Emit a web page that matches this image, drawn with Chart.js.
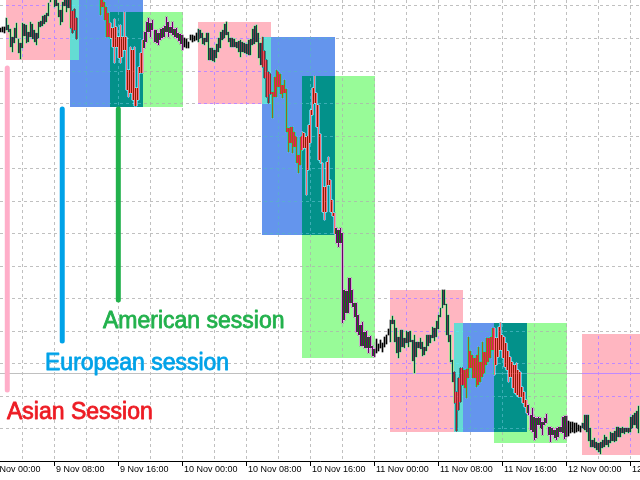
<!DOCTYPE html>
<html>
<head>
<meta charset="utf-8">
<script src="https://cdn.jsdelivr.net/npm/chart.js@4/dist/chart.umd.min.js"></script>
<style>
  html, body { margin: 0; padding: 0; background: #fff; }
  canvas { display: block; }
</style>
</head>
<body>
<canvas id="chart" width="640" height="480"></canvas>
<script>
// 15 minute bars, first one at 9 Nov 01:15 (hours counted from 9 Nov 00:00)
const firstBarHour = 1.25;
const barHours = 0.25;

const highs = [
  433, 434, 434, 443, 436, 432, 424, 433, 438, 422, 418, 438, 437, 436, 429, 439, 437, 431, 428, 439,
  440, 445, 446, 448, 458, 466, 469, 464, 463, 458, 451, 459, 465, 464, 467, 465, 450, 452, 443, 479,
  487, 491, 496, 493, 489, 495, 491, 487, 483, 477, 466, 463, 459, 454, 448, 438, 433, 442, 434, 424,
  436, 424, 449, 424, 391, 414, 411, 414, 373, 394, 408, 421, 429, 439, 443, 438, 441, 431, 431, 428,
  432, 433, 435, 444, 439, 434, 439, 432, 433, 428, 427, 426, 423, 422, 419, 426, 426, 425, 428, 432,
  431, 428, 423, 428, 428, 413, 413, 411, 417, 423, 429, 431, 437, 439, 429, 423, 423, 422, 419, 420,
  421, 419, 418, 417, 421, 422, 432, 435, 436, 428, 418, 424, 410, 401, 389, 387, 369, 384, 391, 389,
  387, 376, 381, 372, 333, 334, 334, 329, 324, 306, 324, 329, 328, 324, 336, 351, 373, 385, 368, 356,
  327, 298, 274, 299, 304, 281, 261, 248, 233, 231, 233, 228, 171, 170, 183, 183, 171, 158, 158, 146,
  136, 139, 129, 130, 124, 125, 115, 112, 122, 117, 121, 118, 124, 126, 132, 141, 145, 141, 133, 124,
  131, 131, 123, 130, 129, 130, 121, 126, 119, 119, 123, 119, 114, 126, 126, 126, 134, 133, 140, 146,
  153, 171, 171, 157, 146, 126, 101, 89, 69, 83, 93, 93, 91, 92, 124, 110, 106, 103, 106, 114,
  99, 119, 109, 123, 123, 124, 133, 133, 123, 134, 138, 126, 124, 118, 110, 104, 99, 96, 98, 91,
  89, 74, 69, 61, 56, 46, 53, 44, 43, 44, 43, 39, 43, 47, 34, 34, 33, 31, 33, 34,
  34, 44, 45, 45, 40, 39, 39, 38, 38, 36, 35, 38, 46, 46, 46, 33, 21, 23, 19, 18,
  19, 21, 26, 24, 21, 29, 28, 30, 34, 34, 33, 34, 33, 33, 33, 44, 46, 48, 50, 55
];

const lows = [
  429, 429, 428, 431, 429, 414, 409, 418, 423, 408, 402, 413, 425, 418, 419, 424, 422, 419, 416, 423,
  434, 435, 437, 439, 445, 459, 462, 454, 455, 444, 436, 439, 455, 449, 453, 433, 428, 431, 422, 463,
  469, 473, 476, 475, 471, 477, 473, 467, 465, 463, 446, 454, 441, 424, 424, 423, 414, 398, 414, 403,
  398, 404, 411, 371, 364, 368, 361, 355, 355, 361, 388, 388, 413, 419, 429, 424, 431, 419, 418, 416,
  421, 423, 424, 429, 424, 428, 426, 424, 423, 420, 417, 411, 414, 413, 413, 421, 419, 420, 421, 419,
  423, 417, 416, 419, 401, 401, 400, 399, 403, 409, 413, 421, 423, 426, 419, 414, 414, 414, 413, 409,
  404, 409, 408, 407, 406, 406, 416, 417, 419, 403, 396, 394, 383, 364, 358, 367, 343, 364, 364, 374,
  367, 363, 368, 329, 309, 318, 308, 314, 298, 288, 296, 311, 313, 266, 291, 318, 346, 358, 334, 301,
  298, 249, 241, 249, 276, 249, 245, 227, 218, 214, 218, 138, 141, 148, 148, 158, 154, 144, 129, 126,
  115, 115, 113, 113, 108, 113, 105, 104, 108, 110, 113, 109, 114, 117, 126, 119, 137, 119, 108, 103,
  109, 114, 113, 118, 114, 119, 100, 88, 104, 113, 112, 105, 106, 110, 115, 118, 123, 120, 124, 132,
  144, 153, 156, 126, 119, 99, 79, 58, 30, 51, 59, 76, 73, 63, 83, 93, 83, 83, 74, 76,
  79, 84, 88, 96, 99, 103, 111, 86, 96, 104, 111, 103, 94, 91, 79, 84, 73, 68, 66, 64,
  64, 58, 54, 48, 46, 31, 29, 21, 23, 36, 33, 26, 36, 38, 26, 19, 26, 23, 21, 24,
  29, 28, 22, 24, 25, 28, 29, 28, 29, 30, 29, 33, 31, 29, 20, 14, 14, 13, 11, 9,
  7, 13, 14, 16, 14, 18, 20, 19, 20, 24, 24, 28, 27, 29, 28, 29, 33, 36, 33, 28
];

const currentPrice = 88;

// session boxes, one entry per day
const asianHigh = [470, 439, 171, 127];
const asianLow = [402, 358, 30, 7];
const europeHigh = [499, 424, 138];
const europeLow = [355, 227, 30];
const americaHigh = [449, 385, 138];
const americaLow = [355, 104, 19];
const sessionStart = [2, 10, 15];
const sessionLength = 9;

const gridHours = [4, 8, 12, 16, 20, 24, 28, 32, 36, 40, 44, 48, 52, 56, 60, 64, 68, 72, 76, 80];
const tickHours = [0, 8, 16, 24, 32, 40, 48, 56, 64, 72, 80];
const tickLabels = [
  '9 Nov 00:00', '9 Nov 08:00', '9 Nov 16:00', '10 Nov 00:00', '10 Nov 08:00', '10 Nov 16:00',
  '11 Nov 00:00', '11 Nov 08:00', '11 Nov 16:00', '12 Nov 00:00', '12 Nov 08:00'
];

const sessionNames = ['Asian Session', 'European session', 'American session'];

const bars = highs.map((h, i) => ({ x: firstBarHour + i * barHours + barHours / 4, y: [lows[i], h] }));

const boxColor = ['#ffb6c1', '#6495ed', '#98fb98'];

// MT4 draws the session boxes in xor mode over the chart
const xorBox = (chart, x0, x1, y0, y1, hex) => {
  const area = chart.chartArea;
  const left = Math.max(Math.round(x0), Math.round(area.left));
  const right = Math.min(Math.round(x1), Math.round(area.right));
  const top = Math.max(Math.round(y0), Math.round(area.top));
  const bottom = Math.min(Math.round(y1), Math.round(area.bottom));
  if (right <= left || bottom <= top) return;
  const mr = 255 - parseInt(hex.slice(1, 3), 16);
  const mg = 255 - parseInt(hex.slice(3, 5), 16);
  const mb = 255 - parseInt(hex.slice(5, 7), 16);
  const img = chart.ctx.getImageData(left, top, right - left, bottom - top);
  const d = img.data;
  for (let k = 0; k < d.length; k += 4) {
    d[k] ^= mr;
    d[k + 1] ^= mg;
    d[k + 2] ^= mb;
  }
  chart.ctx.putImageData(img, left, top);
};

const sessionPlugin = {
  id: 'sessions',
  beforeDraw: (chart) => {
    const ctx = chart.ctx;
    ctx.save();
    ctx.fillStyle = '#ffffff';
    ctx.fillRect(0, 0, chart.width, chart.height);
    ctx.restore();
  },
  beforeDatasetsDraw: (chart) => {
    const { ctx, chartArea, scales: { y } } = chart;
    const py = Math.round(y.getPixelForValue(currentPrice)) + 0.5;
    ctx.save();
    ctx.strokeStyle = '#c0c0c0';
    ctx.lineWidth = 1;
    ctx.beginPath();
    ctx.moveTo(chartArea.left, py);
    ctx.lineTo(chartArea.right, py);
    ctx.stroke();
    ctx.restore();
  },
  afterDatasetsDraw: (chart) => {
    const { x, y } = chart.scales;
    const groups = [[asianHigh, asianLow], [europeHigh, europeLow], [americaHigh, americaLow]];
    groups.forEach(([hi, lo], s) => {
      hi.forEach((value, day) => {
        const start = day * 24 + sessionStart[s];
        xorBox(chart,
          x.getPixelForValue(start),
          x.getPixelForValue(start + sessionLength + barHours / 2),
          y.getPixelForValue(value),
          y.getPixelForValue(lo[day]) + 1,
          boxColor[s]);
      });
    });
  },
  afterDraw: (chart) => {
    const { ctx, chartArea, scales: { x, y } } = chart;
    ctx.save();

    // time axis labels
    ctx.fillStyle = '#000';
    ctx.font = '9px "Liberation Sans", Arial, sans-serif';
    ctx.textAlign = 'left';
    ctx.textBaseline = 'alphabetic';
    tickHours.forEach((h, i) => {
      const px = Math.round(x.getPixelForValue(h));
      ctx.fillRect(px, chartArea.bottom, 1, 5);
      ctx.fillText(tickLabels[i], px + 2, chartArea.bottom + 11);
    });

    // pointers and captions added on top of the screenshot
    const pointerHour = [2.16, 9.03, 16.04];
    const pointerTop = [395, 354, 354];
    const pointerBottom = [69, 118, 159];
    const pointerColor = ['#ffaec9', '#00a2e8', '#22b14c'];
    const captionHour = [2.125, 6.875, 14.125];
    const captionPrice = [42, 91, 133];
    const captionColor = ['#ed1c24', '#00a2e8', '#22b14c'];

    ctx.lineCap = 'round';
    ctx.lineWidth = 5;
    pointerHour.forEach((h, i) => {
      ctx.strokeStyle = pointerColor[i];
      ctx.beginPath();
      ctx.moveTo(x.getPixelForValue(h), y.getPixelForValue(pointerTop[i]) + 2);
      ctx.lineTo(x.getPixelForValue(h), y.getPixelForValue(pointerBottom[i]) - 2);
      ctx.stroke();
    });

    ctx.font = '23px "Liberation Sans", Arial, sans-serif';
    ctx.lineWidth = 0.8;
    ctx.lineJoin = 'round';
    sessionNames.forEach((name, i) => {
      const px = x.getPixelForValue(captionHour[i]);
      const py = y.getPixelForValue(captionPrice[i]);
      ctx.fillStyle = captionColor[i];
      ctx.strokeStyle = captionColor[i];
      ctx.fillText(name, px, py);
      ctx.strokeText(name, px, py);
    });

    ctx.restore();
  }
};

new Chart(document.getElementById('chart'), {
  type: 'bar',
  data: {
    datasets: [{
      data: bars,
      backgroundColor: '#000000',
      borderWidth: 0,
      barThickness: 1
    }]
  },
  options: {
    responsive: false,
    animation: false,
    layout: { padding: { left: 0, right: 0, top: 0, bottom: 19 } },
    plugins: {
      legend: { display: false },
      tooltip: { enabled: false }
    },
    scales: {
      x: {
        type: 'linear',
        min: firstBarHour,
        max: firstBarHour + 80,
        offset: false,
        afterBuildTicks: (axis) => {
          axis.ticks = gridHours.map((v) => ({ value: v }));
        },
        ticks: { display: false },
        grid: { color: '#c0c0c0', drawTicks: false, offset: false },
        border: { color: '#000000', dash: [3, 3] }
      },
      y: {
        type: 'linear',
        position: 'right',
        min: 0,
        max: 461,
        ticks: { display: false, stepSize: 32.5, includeBounds: false },
        grid: { color: '#c0c0c0', drawTicks: false },
        border: { display: false, dash: [3, 3] }
      }
    }
  },
  plugins: [sessionPlugin]
});
</script>
</body>
</html>
